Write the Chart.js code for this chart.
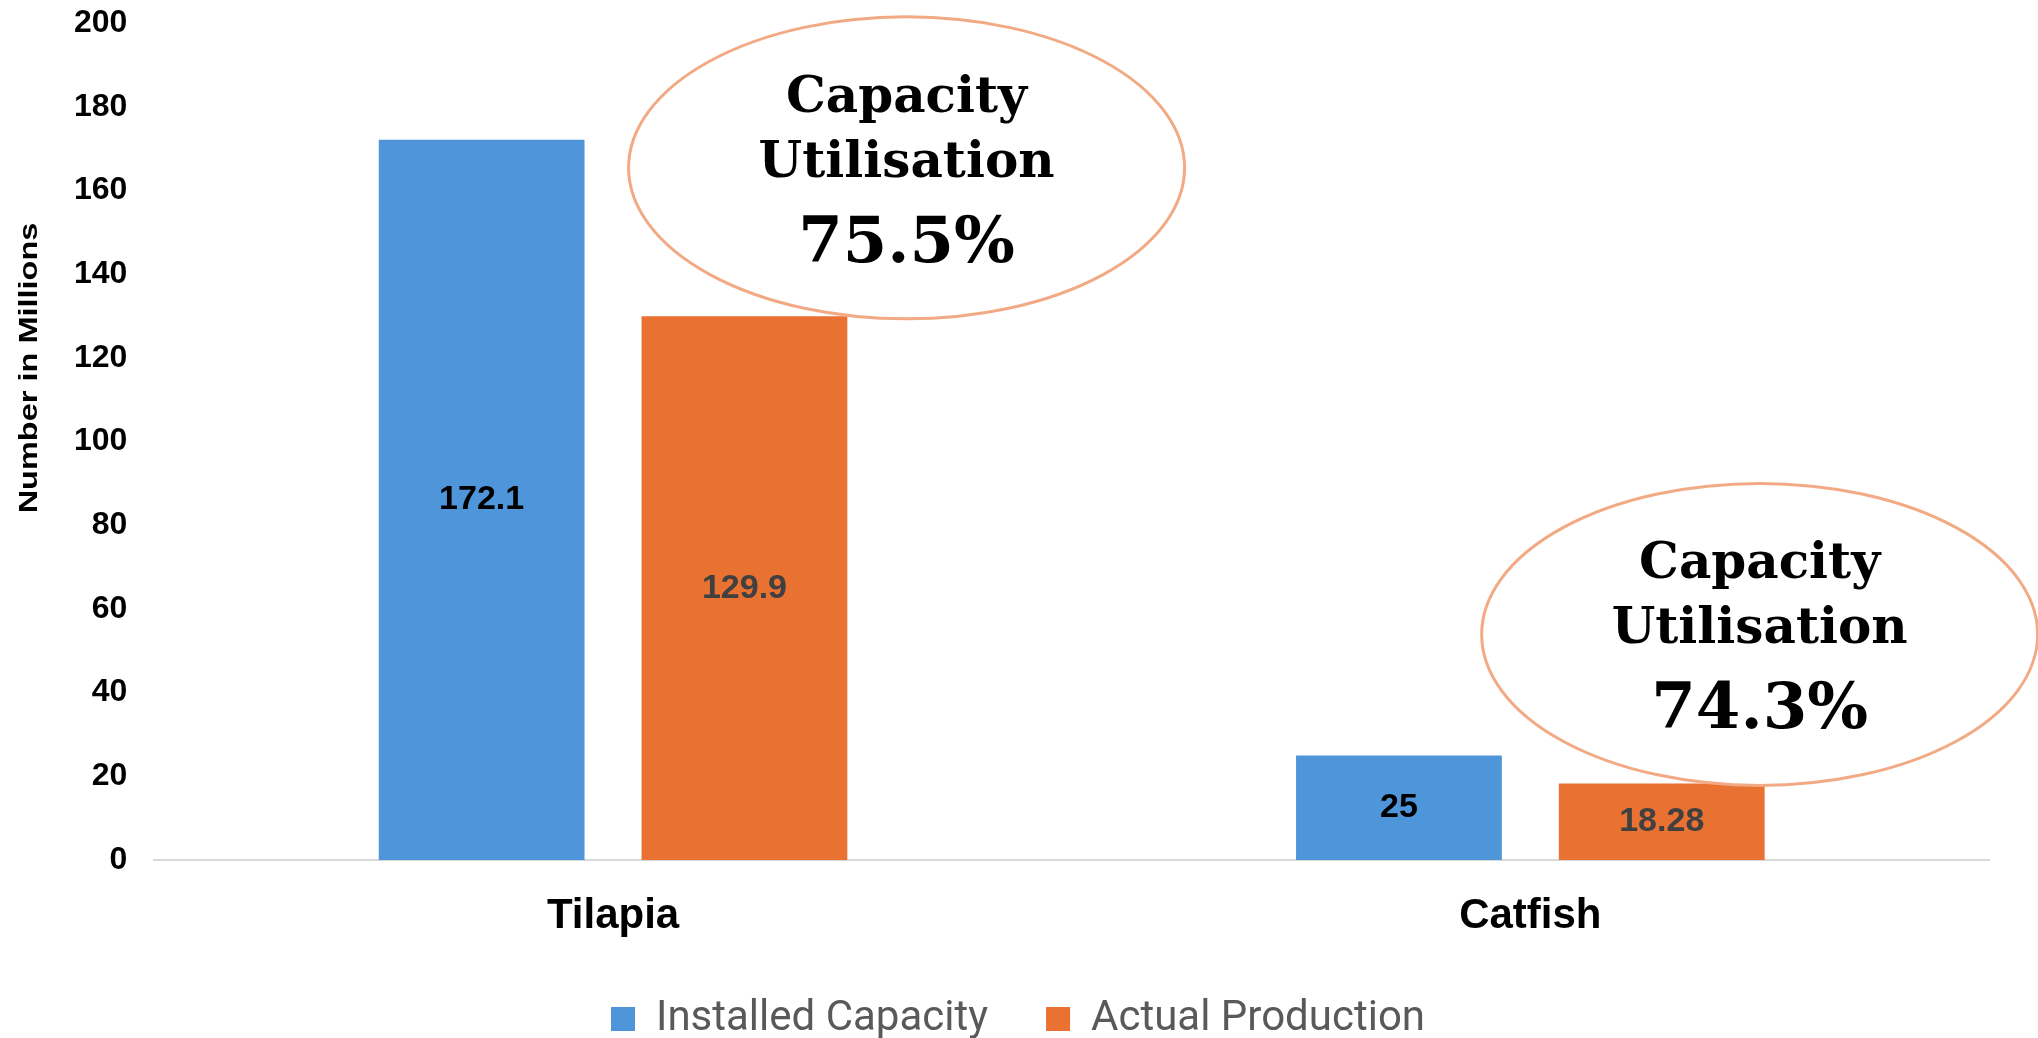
<!DOCTYPE html>
<html>
<head>
<meta charset="utf-8">
<script src="https://cdn.jsdelivr.net/npm/chart.js@4.4.1/dist/chart.umd.min.js"></script>
<style>
  html, body { margin: 0; padding: 0; background: #fff; }
  #wrap { width: 2038px; height: 1038px; }
</style>
</head>
<body>
<div id="wrap"><canvas id="fishChart"></canvas></div>
<script>
// data
var categories = ['Tilapia', 'Catfish'];
var installedCapacity = [172.1, 25];
var actualProduction = [129.9, 18.28];
var yMin = 0, yMax = 200, yStep = 20;

// callouts: text and where they sit (category units / value units)
var utilisationText = ['75.5%', '74.3%'];
var calloutX = [0.32, 1.25];
var calloutY = [165.4, 53.9];

var blue = '#4E95D9';
var orange = '#E97132';

// ellipses with "Capacity Utilisation xx%"
const callouts = {
    id: 'callouts',
    afterDatasetsDraw(chart) {
        const ctx = chart.ctx;
        const xs = chart.scales.x, ys = chart.scales.y;
        const catW = xs.getPixelForValue(1) - xs.getPixelForValue(0);
        for (var i = 0; i < utilisationText.length; i++) {
            var cx = xs.getPixelForValue(0) + calloutX[i] * catW;
            var cy = ys.getPixelForValue(calloutY[i]);
            ctx.save();
            ctx.beginPath();
            ctx.ellipse(cx, cy, 278, 151, 0, 0, Math.PI * 2);
            ctx.fillStyle = '#ffffff';
            ctx.fill();
            ctx.lineWidth = 3;
            ctx.strokeStyle = '#F2AA84';
            ctx.stroke();
            ctx.fillStyle = '#000000';
            ctx.textAlign = 'center';
            ctx.textBaseline = 'alphabetic';
            ctx.font = 'bold 50px "DejaVu Serif"';
            ctx.fillText('Capacity', cx, cy - 56);
            ctx.fillText('Utilisation', cx, cy + 9);
            ctx.font = 'bold 64px "DejaVu Serif"';
            ctx.fillText(utilisationText[i], cx, cy + 94);
            ctx.restore();
        }
    }
};

// values in the middle of each bar
const barLabels = {
    id: 'barLabels',
    afterDatasetsDraw(chart) {
        const ctx = chart.ctx;
        const colors = ['#000000', '#404040'];
        chart.data.datasets.forEach(function (ds, di) {
            chart.getDatasetMeta(di).data.forEach(function (bar, i) {
                var mid = (bar.y + bar.base) / 2;
                ctx.save();
                ctx.font = 'bold 34px "Liberation Sans", Arial, sans-serif';
                ctx.fillStyle = colors[di];
                ctx.textAlign = 'center';
                ctx.textBaseline = 'middle';
                ctx.fillText(String(ds.data[i]), bar.x, mid);
                ctx.restore();
            });
        });
    }
};

// y axis title, stretched like the original
const yTitle = {
    id: 'yTitle',
    afterDraw(chart) {
        const ctx = chart.ctx;
        ctx.save();
        ctx.translate(30, 368);
        ctx.rotate(-Math.PI / 2);
        ctx.scale(1.25, 1);
        ctx.font = 'bold 26px "Liberation Sans", Arial, sans-serif';
        ctx.fillStyle = '#000000';
        ctx.textAlign = 'center';
        ctx.textBaseline = 'middle';
        ctx.fillText('Number in Millions', 0, 0);
        ctx.restore();
    }
};

const ctx1 = document.getElementById('fishChart');
const barChart = new Chart(ctx1, {
    type: 'bar',
    data: {
        labels: categories,
        datasets: [{
            label: 'Installed Capacity',
            data: installedCapacity,
            backgroundColor: blue,
            categoryPercentage: 0.573,
            barPercentage: 0.783
        }, {
            label: 'Actual Production',
            data: actualProduction,
            backgroundColor: orange,
            categoryPercentage: 0.573,
            barPercentage: 0.783
        }]
    },
    options: {
        responsive: true,
        maintainAspectRatio: false,
        animation: false,
        devicePixelRatio: 1,
        layout: {
            padding: { left: 47, right: 49, top: 23, bottom: -12 }
        },
        plugins: {
            tooltip: { enabled: false },
            legend: {
                position: 'bottom',
                labels: {
                    boxWidth: 24,
                    boxHeight: 24,
                    padding: 58,
                    color: '#595959',
                    font: { family: 'Roboto', size: 42 }
                }
            }
        },
        scales: {
            x: {
                grid: { display: false, drawTicks: false },
                border: { display: true, color: '#D9D9D9', width: 2 },
                ticks: {
                    color: '#000000',
                    padding: 43,
                    font: { family: '"Liberation Sans", Arial, sans-serif', size: 42, weight: 'bold', lineHeight: 0.65 }
                },
                afterFit: function (scale) {
                    scale.height = 80;
                }
            },
            y: {
                min: yMin,
                max: yMax,
                grid: { display: false, drawTicks: false },
                border: { display: false },
                ticks: {
                    stepSize: yStep,
                    color: '#000000',
                    padding: 27,
                    font: { family: '"Liberation Sans", Arial, sans-serif', size: 32, weight: 'bold' }
                },
                afterFit: function (scale) {
                    // top label may stick out above the plot, like the original
                    scale.paddingTop = 0;
                    scale.paddingBottom = 0;
                }
            }
        }
    },
    plugins: [callouts, barLabels, yTitle]
});
</script>
</body>
</html>
